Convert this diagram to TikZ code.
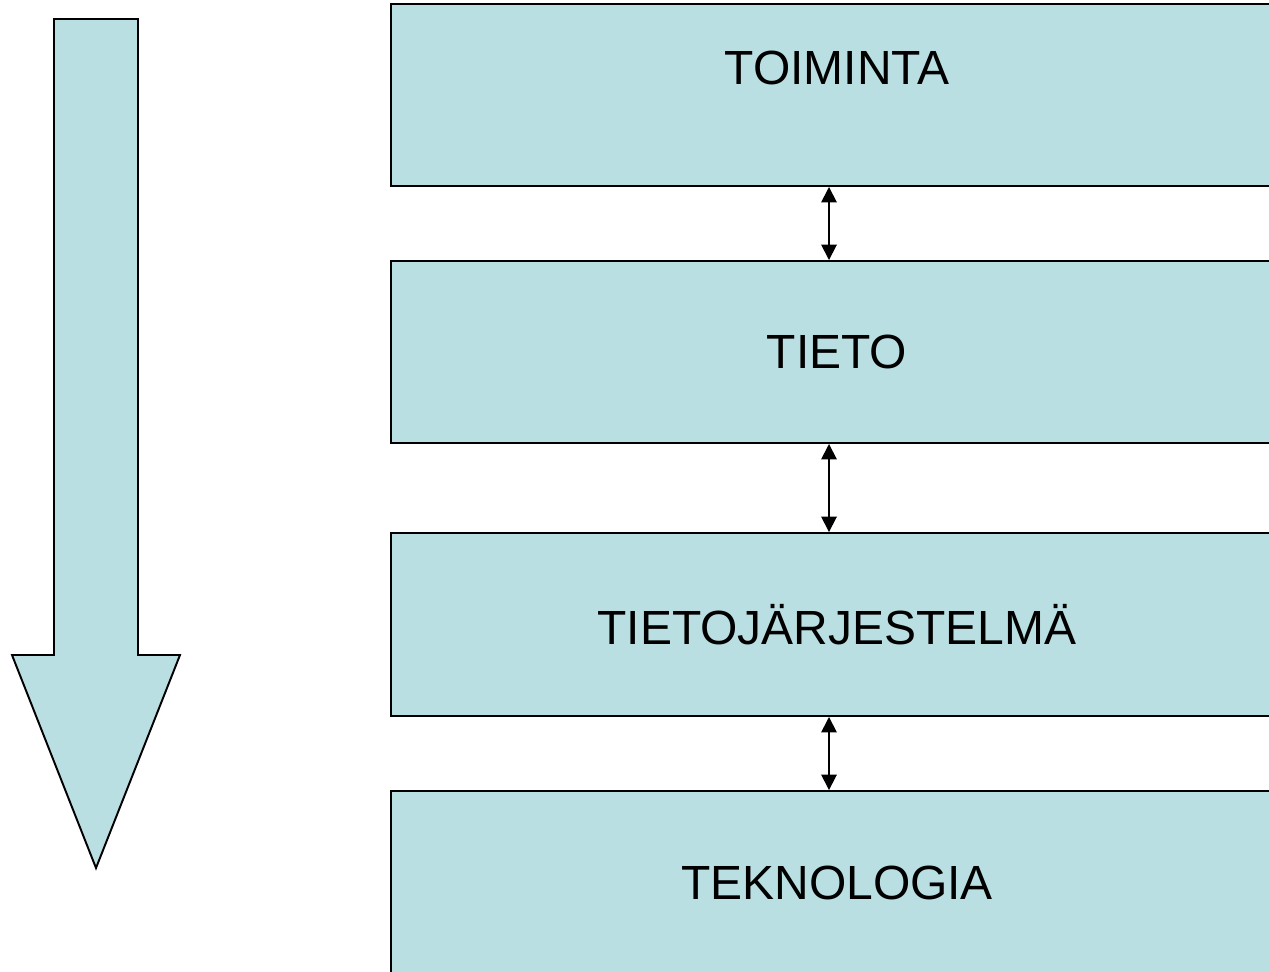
\documentclass[tikz,border=0pt]{standalone}
\usepackage{fontspec}
\setmainfont{Liberation Sans}
\usetikzlibrary{arrows.meta}
\definecolor{boxfill}{RGB}{186,223,226}

\begin{document}
\begin{tikzpicture}[
    layertext/.style={font=\fontsize{27.3}{31}\selectfont},
    layer/.style={draw=black, fill=boxfill, line width=1.1pt, minimum width=17.84cm, inner sep=0pt, layertext},
    link/.style={{Triangle[length=3.1mm,width=3.1mm]}-{Triangle[length=3.1mm,width=3.1mm]}, line width=1pt}
]
            \useasboundingbox (0,0) rectangle (25.38,-19.42);
            \clip (0,0) rectangle (25.38,-19.42);

            \node[layer, minimum height=3.64cm] (Toiminta) at (16.74,-1.9) {};
            \node[layertext] (ToimintaText) at (16.74,-1.36) {TOIMINTA};
            \node[layer, minimum height=3.64cm] (Tieto) at (16.74,-7.04) {TIETO};
            \node[layer, minimum height=3.66cm] (Tietojarjestelma) at (16.74,-12.49) {TIETOJÄRJESTELMÄ};
            \node[layer, minimum height=3.68cm] (Teknologia) at (16.74,-17.66) {TEKNOLOGIA};

            \coordinate (LinkX) at (16.58,0);
            \draw[link] (Toiminta.south -| LinkX) -- (Tieto.north -| LinkX);
            \draw[link] (Tieto.south -| LinkX) -- (Tietojarjestelma.north -| LinkX);
            \draw[link] (Tietojarjestelma.south -| LinkX) -- (Teknologia.north -| LinkX);

            % big downward arrow
            \draw[fill=boxfill, line width=1.1pt, line join=miter]
                (1.08,-0.38) -- (2.76,-0.38) -- (2.76,-13.1) -- (3.6,-13.1)
                -- (1.92,-17.36) -- (0.24,-13.1) -- (1.08,-13.1) -- cycle;
        \end{tikzpicture}
\end{document}
